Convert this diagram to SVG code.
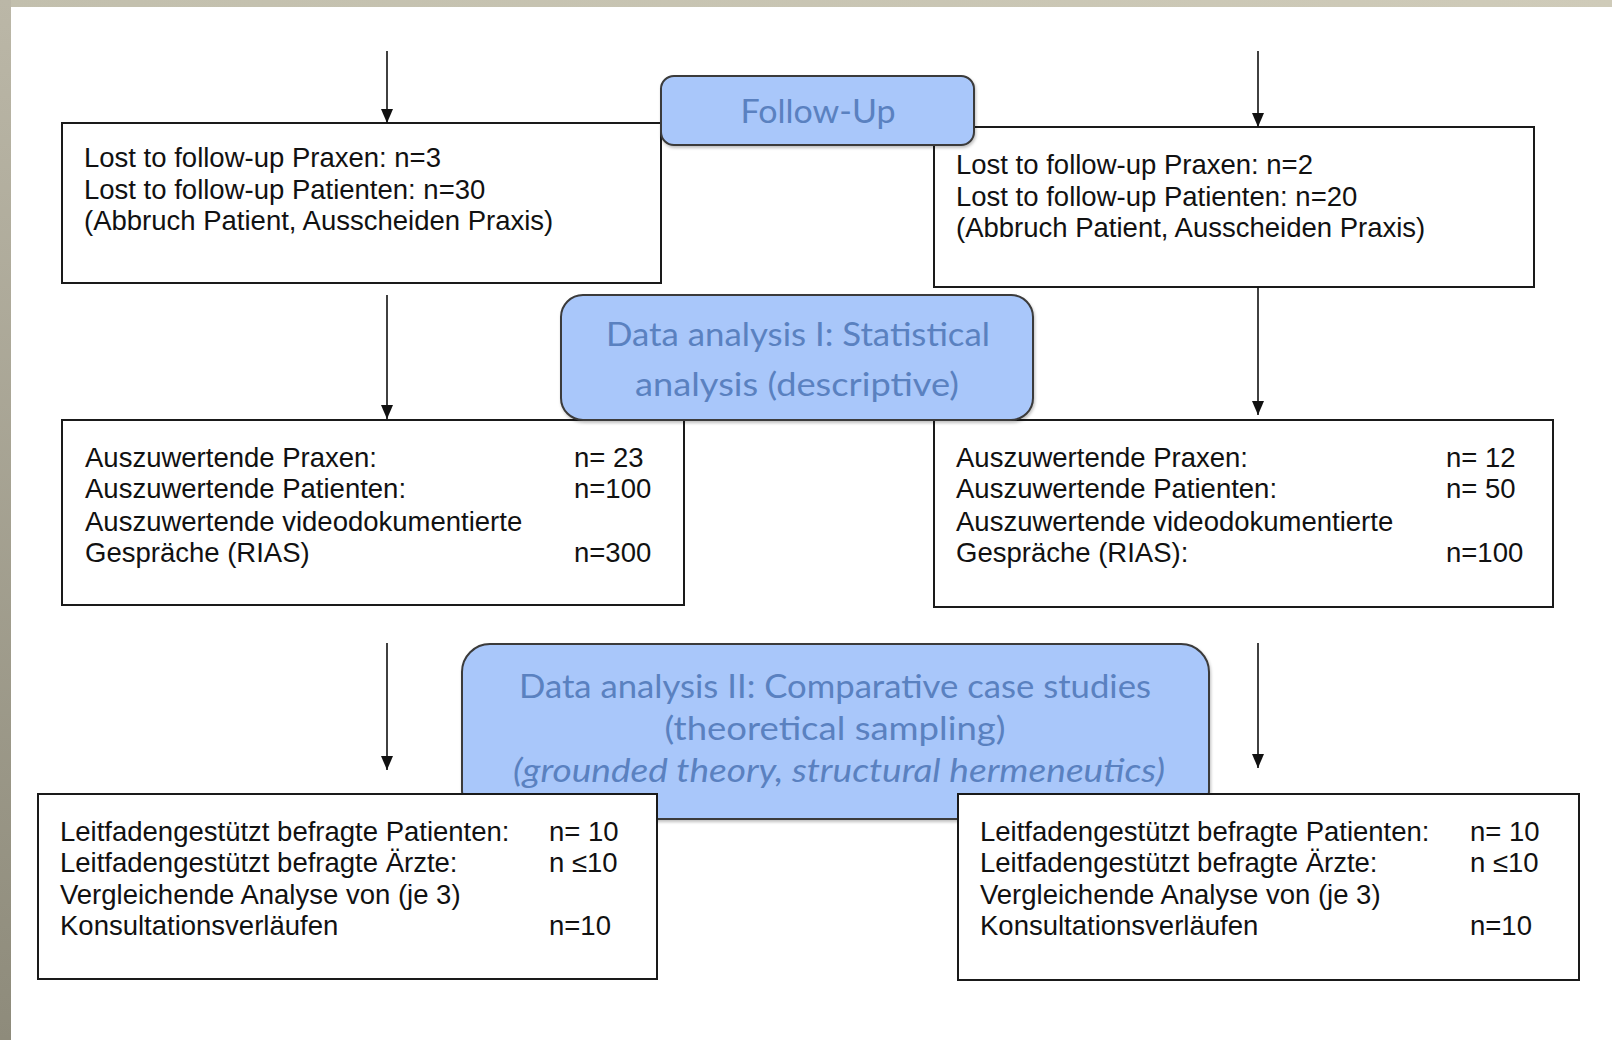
<svg xmlns="http://www.w3.org/2000/svg" width="1612" height="1040" viewBox="0 0 1612 1040">
<style>
.box{fill:#ffffff;stroke:#1a1a1a;stroke-width:2}
.blue{fill:#a9c7fa;stroke:#3a3a3a;stroke-width:2}
.t{font-family:"Liberation Sans",Arial,sans-serif;font-size:27.5px;fill:#111111}
.b{font-family:Lato,"Open Sans",sans-serif;font-size:33px;fill:#5a81c0;text-anchor:middle}
.conn{stroke:#111111;stroke-width:1.6;fill:none;marker-end:url(#ah)}
</style>
<defs>
<marker id="ah" viewBox="0 0 14 12" markerWidth="14" markerHeight="12" refX="14" refY="6" orient="auto" markerUnits="userSpaceOnUse">
<path d="M0,0 L14,6 L0,12 z" fill="#111111"/>
</marker>
<linearGradient id="gTop" x1="0" y1="0" x2="1" y2="0">
<stop offset="0" stop-color="#c2bfad"/>
<stop offset="1" stop-color="#cfcbb9"/>
</linearGradient>
<linearGradient id="gLeft" x1="0" y1="0" x2="0" y2="1">
<stop offset="0" stop-color="#bbb7a7"/>
<stop offset="1" stop-color="#8e8b7b"/>
</linearGradient>
<filter id="sh" x="-5%" y="-5%" width="110%" height="115%">
<feDropShadow dx="1" dy="2" stdDeviation="1.5" flood-color="#000000" flood-opacity="0.25"/>
</filter>
</defs>
<rect x="0" y="0" width="1612" height="1040" fill="#ffffff"/>
<rect x="0" y="0" width="1612" height="7" fill="url(#gTop)"/>
<rect x="0" y="0" width="11" height="1040" fill="url(#gLeft)"/>

<g id="lost-left">
<rect class="box" x="62" y="123" width="599" height="160"/>
<text class="t" x="84" y="167">Lost to follow-up Praxen: n=3</text>
<text class="t" x="84" y="198.5">Lost to follow-up Patienten: n=30</text>
<text class="t" x="84" y="230">(Abbruch Patient, Ausscheiden Praxis)</text>
</g>
<g id="lost-right">
<rect class="box" x="934" y="127" width="600" height="160"/>
<text class="t" x="956" y="174">Lost to follow-up Praxen: n=2</text>
<text class="t" x="956" y="205.5">Lost to follow-up Patienten: n=20</text>
<text class="t" x="956" y="237">(Abbruch Patient, Ausscheiden Praxis)</text>
</g>
<g id="eval-left">
<rect class="box" x="62" y="420" width="622" height="185"/>
<text class="t" x="85" y="467">Auszuwertende Praxen:</text>
<text class="t" x="574" y="467">n= 23</text>
<text class="t" x="85" y="497.5">Auszuwertende Patienten:</text>
<text class="t" x="574" y="497.5">n=100</text>
<text class="t" x="85" y="530.5">Auszuwertende videodokumentierte</text>
<text class="t" x="85" y="561.5">Gespräche (RIAS)</text>
<text class="t" x="574" y="561.5">n=300</text>
</g>
<g id="eval-right">
<rect class="box" x="934" y="420" width="619" height="187"/>
<text class="t" x="956" y="467">Auszuwertende Praxen:</text>
<text class="t" x="1446" y="467">n= 12</text>
<text class="t" x="956" y="497.5">Auszuwertende Patienten:</text>
<text class="t" x="1446" y="497.5">n= 50</text>
<text class="t" x="956" y="530.5">Auszuwertende videodokumentierte</text>
<text class="t" x="956" y="561.5">Gespräche (RIAS):</text>
<text class="t" x="1446" y="561.5">n=100</text>
</g>

<g id="follow-up">
<rect class="blue" x="661" y="76" width="313" height="69" rx="13" filter="url(#sh)"/>
<text class="b" x="818" y="123" textLength="155" lengthAdjust="spacingAndGlyphs">Follow-Up</text>
</g>
<g id="analysis-1">
<rect class="blue" x="561" y="295" width="472" height="125" rx="22" filter="url(#sh)"/>
<text class="b" x="798" y="346" textLength="384" lengthAdjust="spacingAndGlyphs">Data analysis I: Statistical</text>
<text class="b" x="797" y="396" textLength="324" lengthAdjust="spacingAndGlyphs">analysis (descriptive)</text>
</g>
<g id="analysis-2">
<rect class="blue" x="462" y="644" width="747" height="175" rx="28" filter="url(#sh)"/>
<text class="b" x="835" y="698" textLength="632" lengthAdjust="spacingAndGlyphs">Data analysis II: Comparative case studies</text>
<text class="b" x="835" y="740" textLength="341" lengthAdjust="spacingAndGlyphs">(theoretical sampling)</text>
<text class="b" x="839" y="782" font-style="italic" textLength="652" lengthAdjust="spacingAndGlyphs">(grounded theory, structural hermeneutics)</text>
</g>

<g id="interview-left">
<rect class="box" x="38" y="794" width="619" height="185"/>
<text class="t" x="60" y="841">Leitfadengestützt befragte Patienten:</text>
<text class="t" x="549" y="841">n= 10</text>
<text class="t" x="60" y="872">Leitfadengestützt befragte Ärzte:</text>
<text class="t" x="549" y="872">n ≤10</text>
<text class="t" x="60" y="904">Vergleichende Analyse von (je 3)</text>
<text class="t" x="60" y="935">Konsultationsverläufen</text>
<text class="t" x="549" y="935">n=10</text>
</g>
<g id="interview-right">
<rect class="box" x="958" y="794" width="621" height="186"/>
<text class="t" x="980" y="841">Leitfadengestützt befragte Patienten:</text>
<text class="t" x="1470" y="841">n= 10</text>
<text class="t" x="980" y="872">Leitfadengestützt befragte Ärzte:</text>
<text class="t" x="1470" y="872">n ≤10</text>
<text class="t" x="980" y="904">Vergleichende Analyse von (je 3)</text>
<text class="t" x="980" y="935">Konsultationsverläufen</text>
<text class="t" x="1470" y="935">n=10</text>
</g>

<g id="connectors">
<line class="conn" x1="387" y1="51" x2="387" y2="123"/>
<line class="conn" x1="1258" y1="51" x2="1258" y2="127"/>
<line class="conn" x1="387" y1="295" x2="387" y2="419"/>
<line class="conn" x1="1258" y1="287" x2="1258" y2="415"/>
<line class="conn" x1="387" y1="643" x2="387" y2="770"/>
<line class="conn" x1="1258" y1="643" x2="1258" y2="768"/>
</g>
</svg>
